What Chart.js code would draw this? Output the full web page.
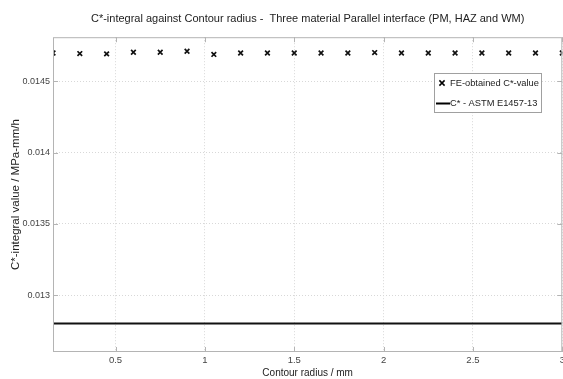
<!DOCTYPE html>
<html>
<head>
<meta charset="utf-8">
<script src="https://cdn.jsdelivr.net/npm/chart.js@4/dist/chart.umd.min.js"></script>
<style>
  html, body { margin: 0; padding: 0; background: #fff; }
  #wrap { width: 563px; height: 379px; position: relative; overflow: hidden; }
  #c { position: absolute; left: 0; top: 0; }
</style>
</head>
<body>
<div id="wrap"><canvas id="c" width="568" height="379"></canvas></div>
<script>
// Contour radius (mm) for each evaluated contour
const contourRadius = [0.15, 0.3, 0.45, 0.6, 0.75, 0.9, 1.05, 1.2, 1.35, 1.5,
                       1.65, 1.8, 1.95, 2.1, 2.25, 2.4, 2.55, 2.7, 2.85, 3.0];
// FE-obtained C*-integral values (MPa-mm/h)
const cStarFE = [0.014699, 0.014695, 0.014693, 0.014704, 0.014704, 0.014711, 0.014689,
                 0.014699, 0.014699, 0.014699, 0.014699, 0.014699, 0.014702, 0.014699,
                 0.014699, 0.014699, 0.014699, 0.014699, 0.014699, 0.014699];
// ASTM E1457-13 reference value, drawn across the radius range
const astmRadius = [0.15, 3.0];
const astmValue = [0.0128, 0.0128];
// Axis ticks
const xTicks = [0.5, 1, 1.5, 2, 2.5, 3];
const yTicks = [0.013, 0.0135, 0.014, 0.0145];

const FONT = "'Liberation Sans', Arial, sans-serif";

// Box around the plot, inward tick marks and the legend
const boxPlugin = {
  id: 'boxLegend',
  afterDatasetsDraw(chart) {
    const { ctx, chartArea: a, scales } = chart;
    ctx.save();
    ctx.strokeStyle = '#b4b4b4';
    ctx.lineWidth = 1;
    ctx.strokeRect(a.left + 0.5, a.top + 0.5, a.right - a.left - 1, a.bottom - a.top - 1);
    ctx.beginPath();
    xTicks.forEach(v => {
      const x = Math.round(scales.x.getPixelForValue(v)) + 0.5;
      ctx.moveTo(x, a.top); ctx.lineTo(x, a.top + 5);
      ctx.moveTo(x, a.bottom); ctx.lineTo(x, a.bottom - 5);
    });
    yTicks.forEach(v => {
      const y = Math.round(scales.y.getPixelForValue(v)) + 0.5;
      ctx.moveTo(a.left, y); ctx.lineTo(a.left + 5, y);
      ctx.moveTo(a.right, y); ctx.lineTo(a.right - 5, y);
    });
    ctx.stroke();

    // legend
    const lx = 434, ly = 73, lw = 107, lh = 39;
    ctx.fillStyle = '#fff';
    ctx.fillRect(lx, ly, lw, lh);
    ctx.strokeStyle = '#a0a0a0';
    ctx.strokeRect(lx + 0.5, ly + 0.5, lw, lh);
    const ds = chart.data.datasets;
    ctx.font = '9.3px ' + FONT;
    ctx.fillStyle = '#222';
    ctx.textBaseline = 'middle';
    ctx.textAlign = 'left';
    // marker entry
    ctx.strokeStyle = '#000';
    ctx.lineWidth = 1.5;
    const mx = 442, my = 83, r = 2.6;
    ctx.beginPath();
    ctx.moveTo(mx - r, my - r); ctx.lineTo(mx + r, my + r);
    ctx.moveTo(mx + r, my - r); ctx.lineTo(mx - r, my + r);
    ctx.stroke();
    ctx.fillText(ds[0].label, 450, my);
    // line entry
    ctx.lineWidth = 2;
    ctx.beginPath();
    ctx.moveTo(436, 103.5); ctx.lineTo(450, 103.5);
    ctx.stroke();
    ctx.fillText(ds[1].label, 450, 103);
    ctx.restore();
  }
};

new Chart(document.getElementById('c'), {
  type: 'scatter',
  data: {
    datasets: [
      {
        label: 'FE-obtained C*-value',
        data: contourRadius.map((x, i) => ({ x, y: cStarFE[i] })),
        pointStyle: 'crossRot',
        pointRadius: 3.3,
        pointBorderWidth: 1.7,
        borderColor: '#111',
        backgroundColor: '#111',
        showLine: false
      },
      {
        label: 'C* - ASTM E1457-13',
        data: astmRadius.map((x, i) => ({ x, y: astmValue[i] })),
        showLine: true,
        borderColor: '#111',
        borderWidth: 2,
        pointRadius: 0
      }
    ]
  },
  options: {
    responsive: false,
    animation: false,
    devicePixelRatio: 1,
    layout: { padding: 0 },
    plugins: {
      legend: { display: false },
      tooltip: { enabled: false },
      title: {
        display: true,
        fullSize: false,
        text: 'C*-integral against Contour radius -  Three material Parallel interface (PM, HAZ and WM)',
        color: '#222',
        font: { family: FONT, size: 11, weight: 'normal' },
        padding: { top: 12, bottom: 12 }
      }
    },
    scales: {
      x: {
        type: 'linear',
        min: 0.15,
        max: 3,
        afterBuildTicks: s => { s.ticks = xTicks.map(v => ({ value: v })); },
        afterFit: s => { s.height = 27; },
        ticks: {
          color: '#444',
          font: { family: FONT, size: 9.5 },
          padding: 3,
          maxRotation: 0,
          callback: v => String(v)
        },
        grid: { color: '#d8d8d8', drawTicks: false },
        border: { display: false, dash: [1, 2] },
        title: {
          display: true,
          text: 'Contour radius / mm',
          color: '#222',
          font: { family: FONT, size: 10 },
          padding: { top: 0, bottom: 0 }
        }
      },
      y: {
        type: 'linear',
        min: 0.0126,
        max: 0.01481,
        afterBuildTicks: s => { s.ticks = yTicks.map(v => ({ value: v })); },
        afterFit: s => { s.width = 53; },
        ticks: {
          color: '#444',
          font: { family: FONT, size: 9 },
          padding: 3,
          callback: v => String(v)
        },
        grid: { color: '#d8d8d8', drawTicks: false },
        border: { display: false, dash: [1, 2] },
        title: {
          display: true,
          text: 'C*-integral value / MPa-mm/h',
          color: '#222',
          font: { family: FONT, size: 11.5 },
          padding: { top: 9, bottom: 0 }
        }
      }
    }
  },
  plugins: [boxPlugin]
});
</script>
</body>
</html>
